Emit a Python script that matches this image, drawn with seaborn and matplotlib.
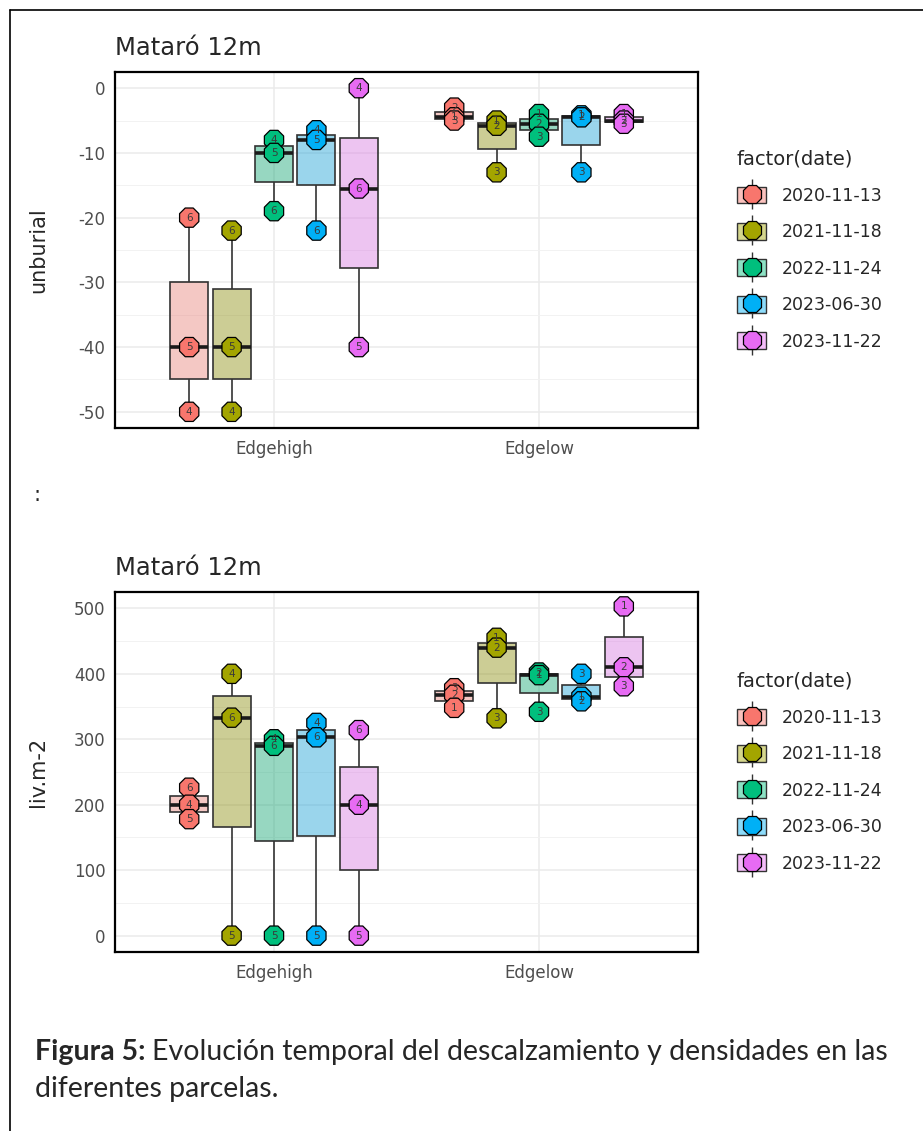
import numpy as np
import pandas as pd
import matplotlib.pyplot as plt
import matplotlib.colors as mcolors
from matplotlib.lines import Line2D
from matplotlib.patches import Patch
import seaborn as sns

dates = ['2020-11-13', '2021-11-18', '2022-11-24', '2023-06-30', '2023-11-22']
sites = ['Edgehigh', 'Edgelow']
colors = ['#F8766D', '#A3A500', '#00BF7D', '#00B0F6', '#E76BF3']

# three plots per site and date
unburial_edgehigh = [[-20, -40, -50], [-22, -40, -50], [-8, -10, -19], [-6.5, -8, -22], [0, -15.5, -40]]
unburial_edgelow = [[-3, -4.5, -5], [-5, -5.8, -13], [-4, -5.5, -7.5], [-4.2, -4.5, -13], [-4, -5, -5.5]]
liv_edgehigh = [[226, 200, 178], [400, 333, 0], [300, 290, 0], [325, 303, 0], [314, 200, 0]]
liv_edgelow = [[378, 368, 348], [455, 440, 332], [402, 398, 342], [400, 365, 358], [503, 410, 381]]

# plot number printed on each point
unb_lab_edgehigh = [[6, 5, 4], [6, 5, 4], [4, 5, 6], [4, 5, 6], [4, 6, 5]]
unb_lab_edgelow = [[2, 1, 3], [1, 2, 3], [1, 2, 3], [1, 2, 3], [1, 2, 3]]
liv_lab_edgehigh = [[6, 4, 5], [4, 6, 5], [4, 6, 5], [4, 6, 5], [6, 4, 5]]
liv_lab_edgelow = [[3, 2, 1], [1, 2, 3], [2, 1, 3], [3, 1, 2], [1, 2, 3]]


def long_table(high, low, lab_high, lab_low):
    rows = []
    for site, vals, labs in [('Edgehigh', high, lab_high), ('Edgelow', low, lab_low)]:
        for d, v, l in zip(dates, vals, labs):
            for a, b in zip(v, l):
                rows.append({'site': site, 'date': d, 'value': a, 'plot': b})
    return pd.DataFrame(rows)


unb = long_table(unburial_edgehigh, unburial_edgelow, unb_lab_edgehigh, unb_lab_edgelow)
liv = long_table(liv_edgehigh, liv_edgelow, liv_lab_edgehigh, liv_lab_edgelow)

sns.set_theme(style='white')
plt.rcParams['font.family'] = ['DejaVu Sans']
plt.rcParams['axes.unicode_minus'] = False

W, H = 923, 1131
fig = plt.figure(figsize=(W / 100, H / 100), dpi=100)
ax1 = fig.add_axes([115 / W, 1 - 428 / H, 583 / W, 356 / H])
ax2 = fig.add_axes([115 / W, 1 - 952 / H, 583 / W, 360 / H])


def draw_panel(ax, df, ylab, major, minor, ylim):
    sns.boxplot(data=df, x='site', y='value', hue='date', order=sites, hue_order=dates,
                palette=colors, width=0.8, gap=0.1, whis=np.inf, showcaps=False,
                linecolor='#333333', linewidth=1.2,
                medianprops=dict(linewidth=2.6, color='#1a1a1a'),
                legend=False, ax=ax)
    for p in ax.patches:
        p.set_facecolor(mcolors.to_rgba(p.get_facecolor(), 0.45))
    n0 = len(ax.collections)
    sns.stripplot(data=df, x='site', y='value', hue='date', order=sites, hue_order=dates,
                  palette=colors, dodge=True, jitter=False, size=15, marker='8',
                  edgecolor='black', linewidth=0.9, legend=False, ax=ax, zorder=3)
    groups = [(s, d) for s in sites for d in dates]
    for coll, (s, d) in zip(ax.collections[n0:], groups):
        sub = df[(df.site == s) & (df.date == d)]
        for (x, y), lab in zip(coll.get_offsets(), sub['plot']):
            ax.text(x, y, str(lab), ha='center', va='center', fontsize=7.5,
                    color='#3a3a3a', zorder=4)

    ax.set_xlim(-0.6, 1.6)
    ax.set_ylim(*ylim)
    ax.set_yticks(major)
    ax.set_yticks(minor, minor=True)
    ax.set_axisbelow(True)
    ax.grid(which='major', color='#EBEBEB', lw=1.1)
    ax.grid(which='minor', axis='y', color='#F2F2F2', lw=0.7)
    ax.tick_params(which='both', length=0, labelsize=12, labelcolor='#4D4D4D')
    ax.tick_params(axis='y', pad=7)
    ax.tick_params(axis='x', pad=9)
    ax.set_xlabel('')
    ax.set_ylabel(ylab, fontsize=15)
    ax.yaxis.set_label_coords(-0.115, 0.5)
    ax.set_title('Mataró 12m', loc='left', fontsize=17.5, pad=12)
    for sp in ax.spines.values():
        sp.set_color('black')
        sp.set_linewidth(1.6)

    handles = [(Patch(facecolor=mcolors.to_rgba(c, 0.45), edgecolor='#333333', lw=1.0),
                Line2D([], [], color='#333333', marker='|', ms=22, ls='none', mew=1),
                Line2D([], [], marker='8', ls='none', ms=14, mfc=c, mec='black', mew=0.9))
               for c in colors]
    ax.legend(handles, dates, title='factor(date)', loc='center left',
              bbox_to_anchor=(1.04, 0.5), frameon=False, fontsize=12.5,
              title_fontsize=14, labelspacing=1.05, handlelength=1.7,
              handleheight=1.1, handletextpad=0.9, alignment='left')


draw_panel(ax1, unb, 'unburial', [0, -10, -20, -30, -40, -50],
           [-5, -15, -25, -35, -45], (-52.5, 2.5))
draw_panel(ax2, liv, 'liv.m-2', [0, 100, 200, 300, 400, 500],
           [50, 150, 250, 350, 450], (-25, 525))

# document frame
fig.add_artist(Line2D([10 / W, 10 / W], [0, 1 - 10 / H], color='black', lw=1.2))
fig.add_artist(Line2D([10 / W, 1], [1 - 10 / H, 1 - 10 / H], color='black', lw=1.2))

fig.text(33 / W, 1 - 495 / H, ':', fontsize=15, ha='left', va='center')

# caption
cap_font = ['Lato', 'DejaVu Sans']
t1 = fig.text(35 / W, 1 - 1052 / H, 'Figura 5:', fontsize=20.5, fontweight='bold',
              family=cap_font, ha='left', va='center')
r = fig.canvas.get_renderer()
bb = t1.get_window_extent(renderer=r)
fig.text(bb.x1 / W + 6 / W, 1 - 1052 / H,
         'Evolución temporal del descalzamiento y densidades en las',
         fontsize=20.5, family=cap_font, ha='left', va='center')
fig.text(35 / W, 1 - 1089 / H, 'diferentes parcelas.', fontsize=20.5,
         family=cap_font, ha='left', va='center')

fig.savefig('out.png', dpi=100)
